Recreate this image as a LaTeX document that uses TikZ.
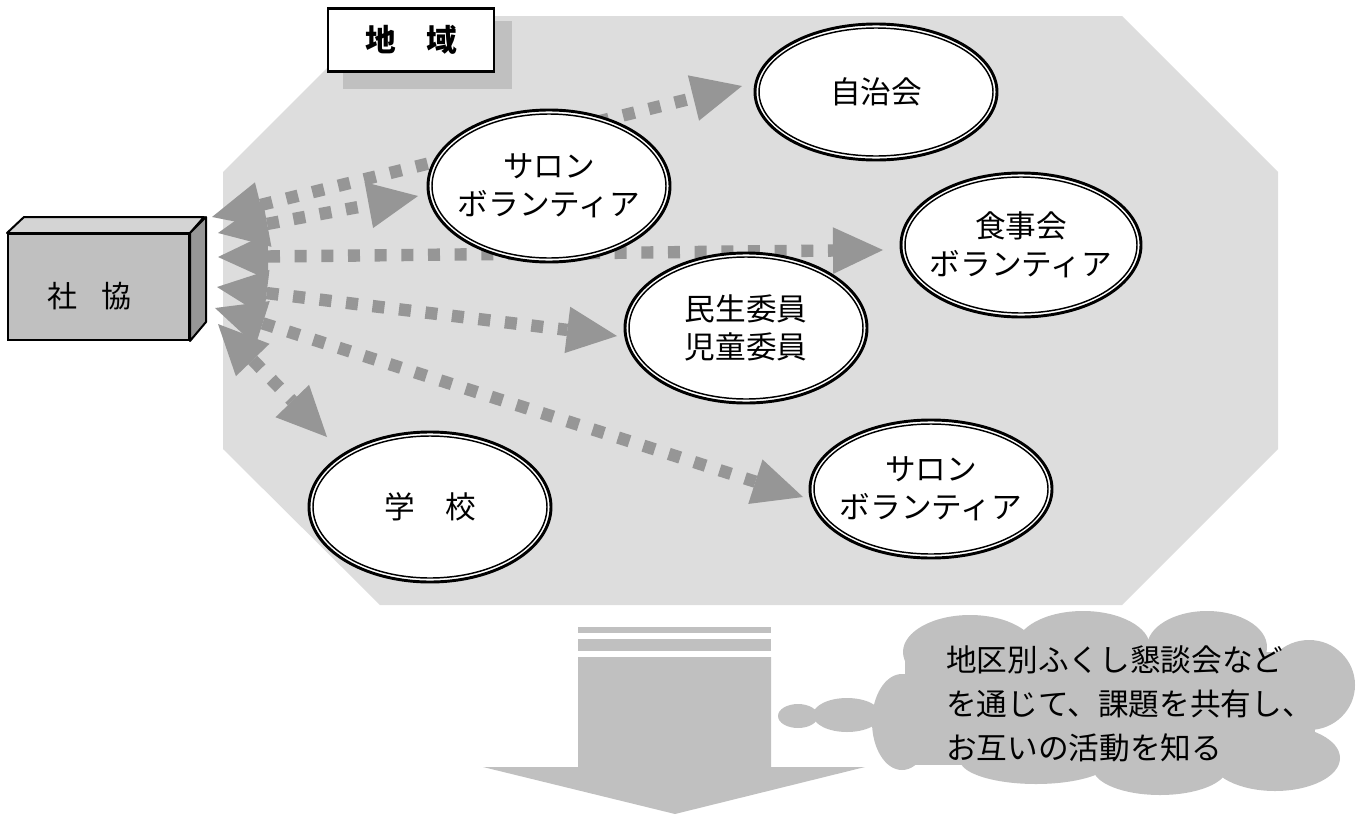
\documentclass[tikz,border=0pt]{standalone}
\usepackage{fontspec}
\newfontfamily\jp{Noto Sans CJK JP}
\usetikzlibrary{arrows.meta,shapes.geometric}
\definecolor{oct}{RGB}{221,221,221}
\definecolor{ag}{RGB}{150,150,150}
\definecolor{lg}{RGB}{192,192,192}
\definecolor{topface}{RGB}{212,212,212}
\newcommand\dellipse[6]{%
  \node[ell, minimum width=#4*1.5pt, minimum height=#5*1.5pt] (#1) at (#2,#3) {#6};
  \draw[line width=1.1pt] (#1.center) ellipse [x radius=#4-4, y radius=#5-4];}
\begin{document}
\begin{tikzpicture}[x=0.75pt,y=-0.75pt,
  >={Triangle[length=37.5pt,width=35pt,line width=0pt]},
  conn/.style={draw=ag, line width=9.3pt, dash pattern=on 9pt off 11pt, <->},
  ell/.style={ellipse, draw, line width=2.2pt, fill=white, inner sep=-30pt, align=center,
    font=\jp\fontsize{23pt}{28.5pt}\selectfont},
  txt/.style={font=\jp\fontsize{23pt}{28.5pt}\selectfont, inner sep=0pt}]
\useasboundingbox (0,0) rectangle (1367,814);
% region
\fill[oct] (223,172) -- (379,16) -- (1122,16) -- (1278,172) -- (1278,449) -- (1122,605) -- (380,605) -- (223,449) -- cycle;
% title
\fill[lg] (343,21) rectangle (512,89);
\node[draw, line width=2.2pt, fill=white, minimum width=166*0.75pt, minimum height=63*0.75pt, inner sep=0pt,
  font=\jp\bfseries\fontsize{23pt}{28pt}\selectfont] (chiiki) at (411,40) {地　域};
% connector ends
\coordinate (a1) at (212,217); \coordinate (a2) at (742,86);
\coordinate (b1) at (218,233); \coordinate (b2) at (418,196);
\coordinate (c1) at (218,257); \coordinate (c2) at (883,250);
\coordinate (d1) at (217,287); \coordinate (d2) at (617,336);
\coordinate (e1) at (215,308); \coordinate (e2) at (803,497);
\coordinate (f1) at (218,324); \coordinate (f2) at (327,437);
\draw[conn] (a1) -- (a2);
\draw[conn] (b1) -- (b2);
\draw[conn] (c1) -- (c2);
\draw[conn] (d1) -- (d2);
\draw[conn] (e1) -- (e2);
\draw[conn] (f1) -- (f2);
% ellipses
\dellipse{jichi}{876}{92}{121}{68}{自治会}
\dellipse{salon1}{549}{186}{121}{76}{サロン\\ボランティア}
\dellipse{shokuji}{1021}{245}{120}{72}{食事会\\ボランティア}
\dellipse{minsei}{746}{328}{121}{75}{民生委員\\児童委員}
\dellipse{gakkou}{430}{507}{121}{75}{学　校}
\dellipse{salon2}{931}{489}{121}{69}{サロン\\ボランティア}
% shakyo box
\node[draw, line width=1.5pt, fill=lg, minimum width=181*0.75pt, minimum height=106*0.75pt, inner sep=0pt] (shakyo) at (98.5,287) {};
\draw[line width=1.5pt, fill=topface, line join=round] (shakyo.north west) -- ++(17,-16) -- ++(180,0) -- (shakyo.north east) -- cycle;
\draw[line width=1.5pt, fill=ag, line join=round] (shakyo.north east) -- ++(16,-16) -- ++(0,105) -- (shakyo.south east) -- cycle;
\node[txt, font=\jp\fontsize{22.5pt}{28pt}\selectfont] (shakyotxt) at (89,296) {社\hspace{18pt}協};
% big down arrow
\fill[lg] (578,627) rectangle (771,633);
\fill[lg] (578,639) rectangle (771,651);
\fill[lg] (578,657) -- (771,657) -- (771,767) -- (865,767) -- (675,814) -- (483,767) -- (578,767) -- cycle;
% cloud
\begin{scope}[fill=lg]
\fill (902,722) ellipse [x radius=30, y radius=48];
\fill (970,652) ellipse [x radius=67, y radius=37];
\fill (1083,647) ellipse [x radius=67, y radius=36];
\fill (1207,647) ellipse [x radius=60, y radius=36];
\fill (1309,685) ellipse [x radius=46, y radius=45];
\fill (1275,758) ellipse [x radius=65, y radius=33];
\fill (1160,768) ellipse [x radius=67, y radius=27];
\fill (1036,760) ellipse [x radius=76, y radius=24];
\fill (905,652) rectangle (1315,765);
\fill (847,715) ellipse [x radius=34, y radius=17];
\fill (798,716) ellipse [x radius=20, y radius=12];
\end{scope}
\node[txt, anchor=west, align=left, font=\jp\fontsize{23pt}{33pt}\selectfont] (cloudtxt) at (946,704)
  {地区別ふくし懇談会など\\を通じて、課題を共有し、\\お互いの活動を知る};
\end{tikzpicture}
\end{document}
